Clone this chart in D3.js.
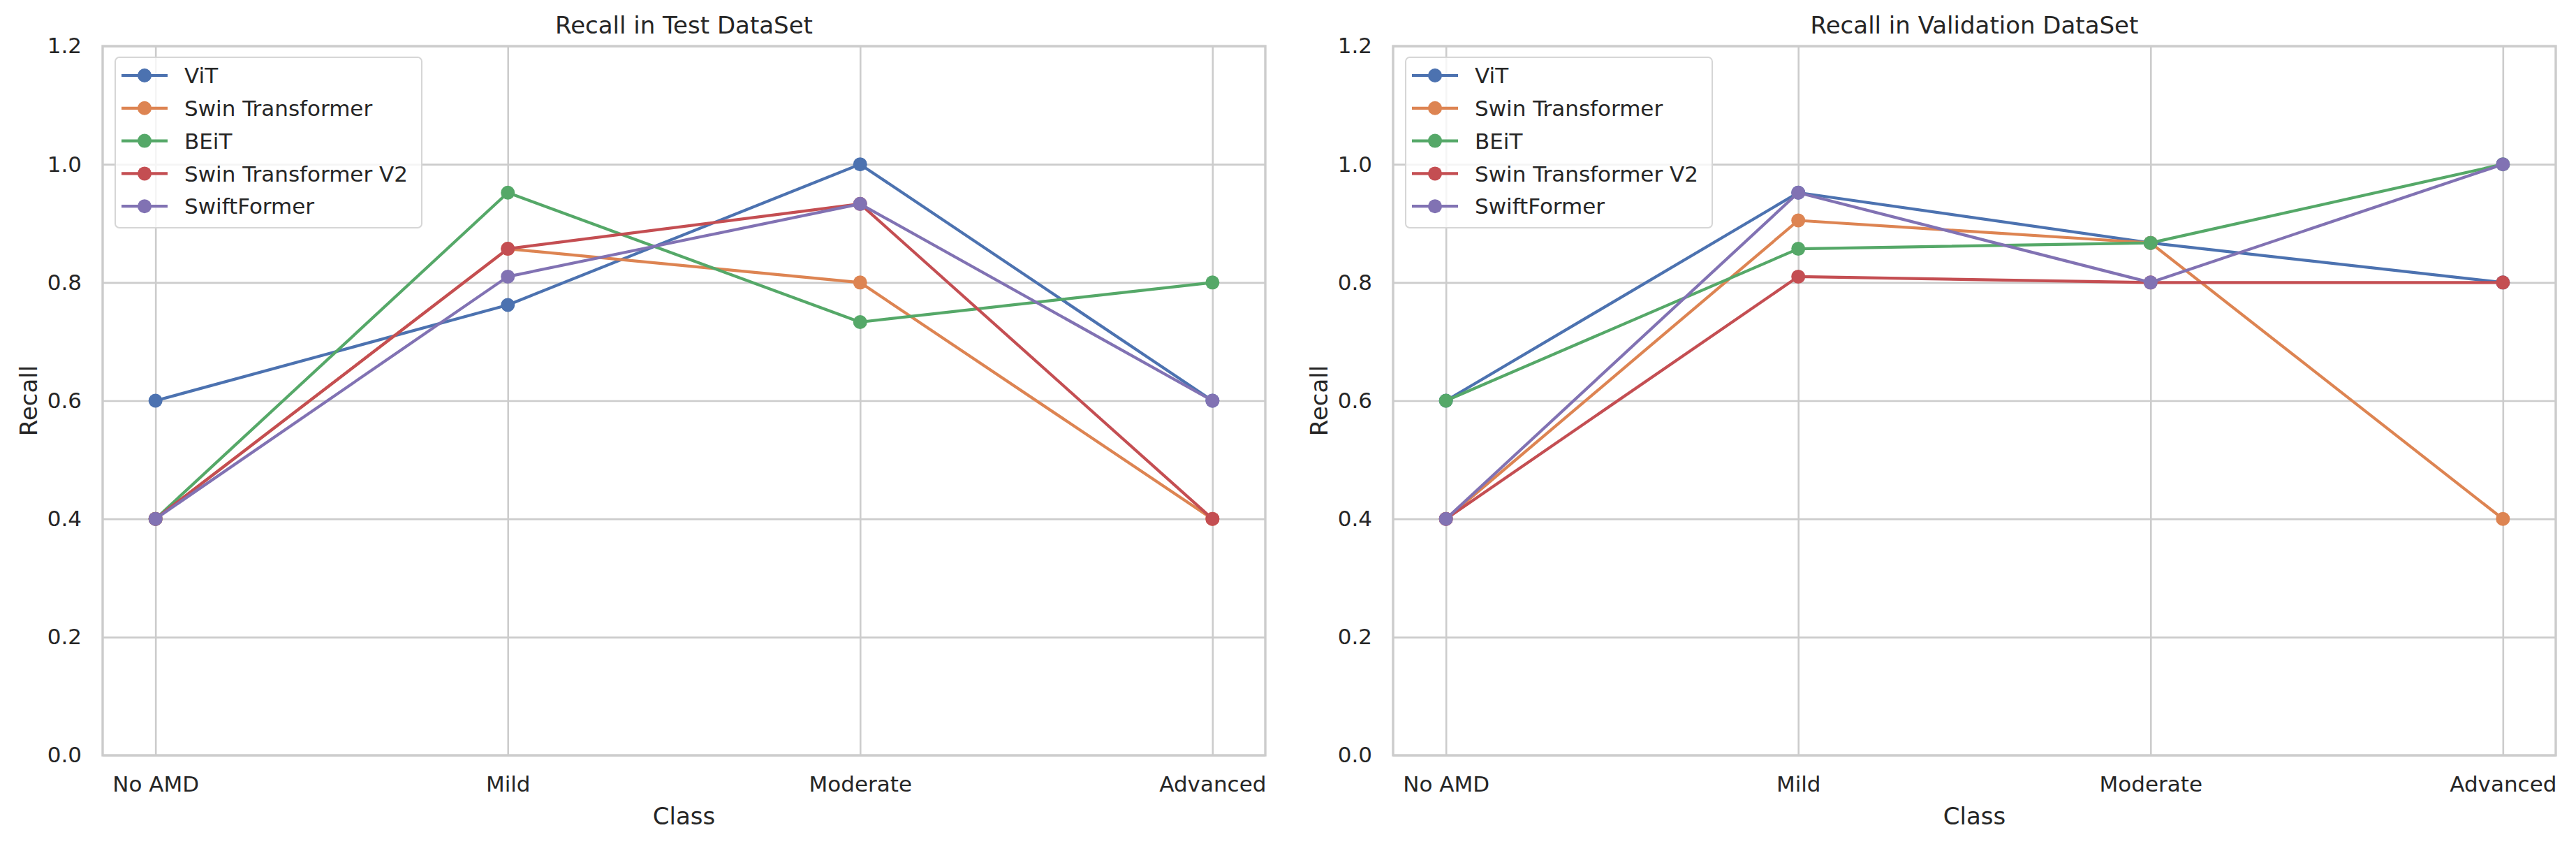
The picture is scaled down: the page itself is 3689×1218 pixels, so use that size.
<!DOCTYPE html>
<html>
<head>
<meta charset="utf-8">
<script src="https://d3js.org/d3.v7.min.js"></script>
<style>
  body { margin: 0; background: #fff; }
  text { font-family: "DejaVu Sans", sans-serif; fill: #262626; }
</style>
</head>
<body>
<div id="chart"></div>
<script>
// categories and series
const classes = ["No AMD", "Mild", "Moderate", "Advanced"];
const models = ["ViT", "Swin Transformer", "BEiT", "Swin Transformer V2", "SwiftFormer"];
const colors = ["#4c72b0", "#dd8452", "#55a868", "#c44e52", "#8172b3"];
const yTicks = [0.0, 0.2, 0.4, 0.6, 0.8, 1.0, 1.2];

// recall, test set
const testViT    = [0.600, 0.762, 1.000, 0.600];
const testSwin   = [0.400, 0.857, 0.800, 0.400];
const testBEiT   = [0.400, 0.952, 0.733, 0.800];
const testSwinV2 = [0.400, 0.857, 0.933, 0.400];
const testSwift  = [0.400, 0.810, 0.933, 0.600];

// recall, validation set
const valViT    = [0.600, 0.952, 0.867, 0.800];
const valSwin   = [0.400, 0.905, 0.867, 0.400];
const valBEiT   = [0.600, 0.857, 0.867, 1.000];
const valSwinV2 = [0.400, 0.810, 0.800, 0.800];
const valSwift  = [0.400, 0.952, 0.800, 1.000];

const W = 3689, H = 1218;
const plotTop = 66, ph = 1015, pw = 1665;

const panels = [
  { title: "Recall in Test DataSet", left: 147, series: [testViT, testSwin, testBEiT, testSwinV2, testSwift] },
  { title: "Recall in Validation DataSet", left: 1995, series: [valViT, valSwin, valBEiT, valSwinV2, valSwift] }
];

const svg = d3.select("#chart").append("svg")
  .attr("width", W)
  .attr("height", H)
  .style("background", "#fff");

panels.forEach(p => {
  const g = svg.append("g").attr("transform", "translate(" + p.left + "," + plotTop + ")");

  const x = d3.scalePoint().domain(classes).range([0, pw]).padding(0.15);
  const y = d3.scaleLinear().domain([0, 1.2]).range([ph, 0]);

  // grid
  const gx = g.append("g")
    .attr("transform", "translate(0," + ph + ")")
    .call(d3.axisBottom(x).tickSize(-ph).tickFormat(""));
  const gy = g.append("g")
    .call(d3.axisLeft(y).tickValues(yTicks).tickSize(-pw).tickFormat(""));
  [gx, gy].forEach(a => {
    a.select(".domain").remove();
    a.selectAll("line").attr("stroke", "#cccccc").attr("stroke-width", 2.6);
  });

  // tick labels
  const ax = g.append("g")
    .attr("transform", "translate(0," + ph + ")")
    .call(d3.axisBottom(x).tickSize(0).tickPadding(30));
  const ay = g.append("g")
    .call(d3.axisLeft(y).tickValues(yTicks).tickSize(0).tickPadding(30).tickFormat(d3.format(".1f")));
  [ax, ay].forEach(a => {
    a.select(".domain").remove();
    a.selectAll("text").style("font-size", "31px").style("font-family", "DejaVu Sans").attr("fill", "#262626");
  });

  // lines
  const line = d3.line()
    .x((d, i) => x(classes[i]))
    .y(d => y(d));

  p.series.forEach((vals, k) => {
    const s = g.append("g");
    s.append("path")
      .datum(vals)
      .attr("d", line)
      .attr("fill", "none")
      .attr("stroke", colors[k])
      .attr("stroke-width", 4.2)
      .attr("stroke-linejoin", "round")
      .attr("stroke-linecap", "round");
    s.selectAll("circle")
      .data(vals)
      .enter()
      .append("circle")
      .attr("cx", (d, i) => x(classes[i]))
      .attr("cy", d => y(d))
      .attr("r", 10)
      .attr("fill", colors[k]);
  });

  // spines
  g.append("rect")
    .attr("width", pw)
    .attr("height", ph)
    .attr("fill", "none")
    .attr("stroke", "#cccccc")
    .attr("stroke-width", 3.4);

  // legend
  const lg = g.append("g").attr("transform", "translate(18,16)");
  lg.append("rect")
    .attr("width", 439)
    .attr("height", 244)
    .attr("rx", 6)
    .attr("fill", "#fff")
    .attr("fill-opacity", 0.8)
    .attr("stroke", "#d6d6d6")
    .attr("stroke-width", 2);
  models.forEach((m, k) => {
    const row = lg.append("g").attr("transform", "translate(0," + (26 + k * 46.8) + ")");
    row.append("line")
      .attr("x1", 9).attr("x2", 75)
      .attr("stroke", colors[k])
      .attr("stroke-width", 4.2);
    row.append("circle")
      .attr("cx", 42)
      .attr("r", 10)
      .attr("fill", colors[k]);
    row.append("text")
      .attr("x", 99)
      .attr("dy", "0.36em")
      .style("font-size", "31px")
      .text(m);
  });

  // titles
  g.append("text")
    .attr("x", pw / 2)
    .attr("y", 48 - plotTop)
    .attr("text-anchor", "middle")
    .style("font-size", "34px")
    .text(p.title);

  g.append("text")
    .attr("x", pw / 2)
    .attr("y", 1180 - plotTop)
    .attr("text-anchor", "middle")
    .style("font-size", "34px")
    .text("Class");

  g.append("text")
    .attr("transform", "translate(-94," + (ph / 2) + ") rotate(-90)")
    .attr("text-anchor", "middle")
    .style("font-size", "34px")
    .text("Recall");
});
</script>
</body>
</html>
